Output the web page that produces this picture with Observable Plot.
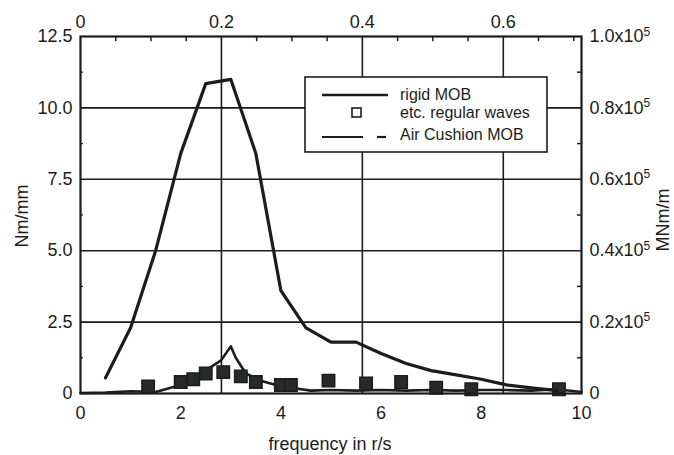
<!DOCTYPE html>
<html>
<head>
<meta charset="utf-8">
<script src="https://cdn.jsdelivr.net/npm/d3@7"></script>
<script src="https://cdn.jsdelivr.net/npm/@observablehq/plot@0.6"></script>
<style>
  html, body { margin: 0; padding: 0; background: #fff; }
  #chart svg { display: block; }
</style>
</head>
<body>
<div id="chart"></div>
<script>
// ---- data ----
const rigidFreq = [0.5, 1.0, 1.5, 2.0, 2.5, 3.0, 3.5, 4.0, 4.5, 5.0, 5.5, 6.0, 6.5, 7.0, 7.5, 8.0, 8.5, 9.0, 9.5];
const rigidVal  = [0.55, 2.3, 5.0, 8.4, 10.85, 11.0, 8.4, 3.6, 2.3, 1.8, 1.8, 1.4, 1.05, 0.8, 0.65, 0.5, 0.3, 0.2, 0.1];

const airFreq = [0, 0.5, 1.0, 1.5, 2.0, 2.4, 2.8, 3.0, 3.1, 3.3, 3.6, 3.9, 4.2, 4.6, 5.0, 5.5, 6.0, 6.5, 7.0, 7.5, 8.0, 8.5, 9.0, 9.5, 10.0];
const airVal  = [0.02, 0.03, 0.08, 0.05, 0.3, 0.7, 1.15, 1.65, 1.25, 0.7, 0.45, 0.3, 0.2, 0.1, 0.12, 0.1, 0.12, 0.1, 0.12, 0.1, 0.12, 0.12, 0.1, 0.15, 0.05];

const expFreq = [1.35, 2.0, 2.25, 2.5, 2.85, 3.2, 3.5, 4.0, 4.2, 4.95, 5.7, 6.4, 7.1, 7.8, 9.55];
const expVal  = [0.25, 0.4, 0.5, 0.7, 0.75, 0.6, 0.4, 0.3, 0.3, 0.45, 0.35, 0.4, 0.2, 0.15, 0.15];

const bottomTicks = [0, 2, 4, 6, 8, 10];
const leftTicks   = [0, 2.5, 5.0, 7.5, 10.0, 12.5];
const leftLabels  = ["0", "2.5", "5.0", "7.5", "10.0", "12.5"];
const rightLabels = ["0", "0.2x10", "0.4x10", "0.6x10", "0.8x10", "1.0x10"];
const topTicks    = [0, 0.2, 0.4, 0.6];
const topLabels   = ["0", "0.2", "0.4", "0.6"];
const topPerX     = 0.0711;          // top-axis units per r/s
const topMinor    = [0.05, 0.1, 0.15, 0.25, 0.3, 0.35, 0.45, 0.5, 0.55, 0.65, 0.7];
const sideMinor   = [1.25, 3.75, 6.25, 8.75, 11.25];

const seriesNames = ["rigid MOB", "etc. regular waves", "Air Cushion MOB"];
const xTitle = "frequency in r/s";
const yTitle = "Nm/mm";
const y2Title = "MNm/m";

// ---- build tables ----
const rigid = rigidFreq.map((x, i) => ({x, y: rigidVal[i]}));
const air   = airFreq.map((x, i) => ({x, y: airVal[i]}));
const exp   = expFreq.map((x, i) => ({x, y: expVal[i]}));
const ink = "#1c1c1c";
const FONT = "'Liberation Sans', Arial, Helvetica, sans-serif";

const chart = Plot.plot({
  width: 674,
  height: 455,
  marginLeft: 80,
  marginRight: 93,
  marginTop: 36,
  marginBottom: 62,
  x: {domain: [0, 10]},
  y: {domain: [0, 12.5]},
  style: {fontFamily: FONT, fontSize: "18px", color: ink, background: "#fff", overflow: "visible"},
  marks: [
    // grid
    Plot.ruleY([2.5, 5, 7.5, 10], {stroke: ink, strokeWidth: 1.6}),
    Plot.ruleX(topTicks.slice(1).map(t => t / topPerX), {stroke: ink, strokeWidth: 1.6}),
    // minor inward ticks
    Plot.ruleX(topMinor.map(t => t / topPerX), {y1: 12.5, y2: 12.32, stroke: ink, strokeWidth: 1.5}),
    Plot.ruleY(sideMinor, {x1: 10, x2: 9.92, stroke: ink, strokeWidth: 1.5}),
    Plot.ruleY(sideMinor, {x1: 0, x2: 0.06, stroke: ink, strokeWidth: 1.2}),
    // data
    Plot.line(air, {x: "x", y: "y", stroke: ink, strokeWidth: 2.6, strokeLinejoin: "round"}),
    Plot.dot(exp, {x: "x", y: "y", symbol: "square", r: 7, fill: "#262a28", stroke: ink, strokeWidth: 1.5}),
    Plot.line(rigid, {x: "x", y: "y", stroke: ink, strokeWidth: 3.2, strokeLinejoin: "round"}),
    // frame
    Plot.frame({stroke: ink, strokeWidth: 2.2}),
    // axes
    Plot.axisX(bottomTicks, {anchor: "bottom", tickSize: 0, tickPadding: 13, label: null, fontSize: 18}),
    Plot.axisX(topTicks.map(t => t / topPerX), {anchor: "top", tickSize: 0, tickPadding: 9, label: null, fontSize: 18,
      tickFormat: (d, i) => topLabels[i]}),
    Plot.axisY(leftTicks, {anchor: "left", tickSize: 0, tickPadding: 8, label: null, fontSize: 18,
      tickFormat: (d, i) => leftLabels[i]}),
    Plot.axisY(leftTicks, {anchor: "right", tickSize: 0, tickPadding: 8, label: null, fontSize: 18,
      tickFormat: (d, i) => rightLabels[i]})
  ]
});

const svg = d3.select(chart);

// superscript exponent on the right axis labels
svg.selectAll("text").each(function () {
  const t = d3.select(this);
  if (this.childElementCount === 0 && /x10$/.test(this.textContent)) {
    t.append("tspan").attr("dy", "-0.55em").attr("font-size", "12px").text("5");
  }
});

// axis titles
svg.append("text")
  .attr("x", 330).attr("y", 450)
  .attr("text-anchor", "middle")
  .attr("font-family", FONT).attr("font-size", 18).attr("fill", ink)
  .text(xTitle);
svg.append("text")
  .attr("transform", "translate(22,216) rotate(-90)")
  .attr("text-anchor", "middle").attr("dy", "0.35em")
  .attr("font-family", FONT).attr("font-size", 18).attr("fill", ink)
  .text(yTitle);
svg.append("text")
  .attr("transform", "translate(663,220) rotate(-90)")
  .attr("text-anchor", "middle").attr("dy", "0.35em")
  .attr("font-family", FONT).attr("font-size", 18).attr("fill", ink)
  .text(y2Title);

// legend
const lg = svg.append("g").attr("font-family", FONT).attr("font-size", 16).attr("fill", ink)
  .attr("text-anchor", "start");
lg.append("rect").attr("x", 305).attr("y", 77).attr("width", 242).attr("height", 75)
  .attr("fill", "#fff").attr("stroke", ink).attr("stroke-width", 1.6);
lg.append("line").attr("x1", 322).attr("x2", 388).attr("y1", 95).attr("y2", 95)
  .attr("stroke", ink).attr("stroke-width", 2.6);
lg.append("rect").attr("x", 352).attr("y", 108).attr("width", 9).attr("height", 9)
  .attr("fill", "none").attr("stroke", ink).attr("stroke-width", 1.6);
lg.append("line").attr("x1", 322).attr("x2", 363).attr("y1", 137).attr("y2", 137)
  .attr("stroke", ink).attr("stroke-width", 2.2);
lg.append("line").attr("x1", 377).attr("x2", 386).attr("y1", 137).attr("y2", 137)
  .attr("stroke", ink).attr("stroke-width", 2.2);
[100, 118, 140].forEach((yy, i) => {
  lg.append("text").attr("x", 400).attr("y", yy).attr("text-anchor", "start").text(seriesNames[i]);
});

document.getElementById("chart").appendChild(chart);
</script>
</body>
</html>
